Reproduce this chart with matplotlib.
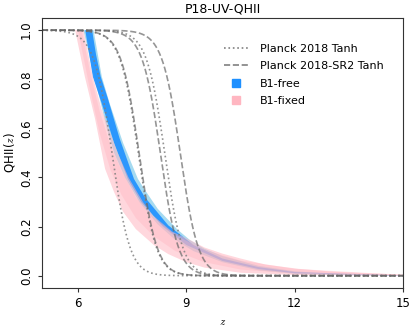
import numpy as np
import matplotlib
matplotlib.use("Agg")
import matplotlib.pyplot as plt
from matplotlib.lines import Line2D

plt.rcParams['font.family'] = ['DejaVu Sans']
plt.rcParams['mathtext.fontset'] = 'cm'

# tanh reionization midpoints (low, mid, high)
planck_zre = [6.94, 7.67, 8.40]
sr2_zre = [7.69, 8.28, 8.83]

# B1-free band, outer (light) and inner (dark) edges
blue_out_lo_z = [6.15, 6.4, 6.6, 6.8, 7.0, 7.3, 7.7, 8.2, 8.7, 9.2, 10.0, 11.0, 12.0, 13.0, 15.0]
blue_out_lo_q = [1.0, 0.84, 0.72, 0.6, 0.5, 0.4, 0.3, 0.21, 0.145, 0.1, 0.055, 0.022, 0.008, 0.003, 0.0]
blue_out_hi_z = [6.43, 6.55, 6.66, 6.88, 7.25, 7.66, 7.83, 8.21, 8.74, 9.1, 9.5, 10.0, 11.0, 12.0, 13.0, 15.0]
blue_out_hi_q = [1.0, 0.9, 0.81, 0.7, 0.54, 0.394, 0.354, 0.272, 0.19, 0.145, 0.11, 0.08, 0.04, 0.018, 0.008, 0.001]
blue_in_lo_z = [6.2, 6.41, 6.66, 7.0, 7.38, 7.75, 8.35, 9.0, 10.0, 11.0, 12.0, 15.0]
blue_in_lo_q = [1.0, 0.81, 0.7, 0.54, 0.394, 0.3, 0.2, 0.125, 0.06, 0.027, 0.01, 0.0]
blue_in_hi_z = [6.39, 6.5, 6.63, 6.83, 7.15, 7.55, 7.85, 8.5, 9.2, 10.0, 11.0, 12.0, 15.0]
blue_in_hi_q = [1.0, 0.9, 0.81, 0.72, 0.56, 0.394, 0.32, 0.205, 0.125, 0.07, 0.035, 0.015, 0.001]

# B1-fixed band
pink_out_lo_z = [5.92, 6.19, 6.47, 6.75, 7.0, 7.25, 7.6, 8.1, 8.5, 9.0, 9.5, 10.5, 12.0, 15.0]
pink_out_lo_q = [1.0, 0.81, 0.64, 0.435, 0.34, 0.26, 0.19, 0.125, 0.088, 0.055, 0.033, 0.012, 0.003, 0.0]
pink_out_hi_z = [6.15, 6.41, 6.65, 6.9, 7.1, 7.4, 7.8, 8.08, 8.6, 9.15, 9.5, 10.0, 10.5, 11.2, 12.1, 13.0, 14.0, 15.0]
pink_out_hi_q = [1.0, 0.81, 0.68, 0.58, 0.5, 0.40, 0.30, 0.245, 0.18, 0.142, 0.115, 0.09, 0.07, 0.045, 0.028, 0.017, 0.01, 0.005]
pink_in_lo_z = [6.0, 6.3, 6.6, 6.9, 7.2, 7.6, 8.1, 8.7, 9.5, 10.5, 12.0, 15.0]
pink_in_lo_q = [1.0, 0.78, 0.58, 0.43, 0.33, 0.235, 0.16, 0.1, 0.055, 0.025, 0.008, 0.0]
pink_in_hi_z = [6.1, 6.35, 6.6, 6.9, 7.2, 7.6, 8.1, 8.7, 9.5, 10.5, 12.0, 15.0]
pink_in_hi_q = [1.0, 0.82, 0.67, 0.53, 0.43, 0.32, 0.235, 0.165, 0.105, 0.062, 0.028, 0.003]


def tanh_q(z, zre, dz=0.5):
    y = (1 + z) ** 1.5
    yre = (1 + zre) ** 1.5
    dy = 1.5 * np.sqrt(1 + zre) * dz
    return 0.5 * (1 + np.tanh((yre - y) / dy))


def band(ax, lz, lq, hz, hq, **kw):
    xs = list(lz) + list(hz)[::-1]
    ys = list(lq) + list(hq)[::-1]
    ax.fill(xs, ys, lw=0, **kw)


fig = plt.figure(figsize=(4.15, 3.31), dpi=100)
ax = fig.add_axes([0.101, 0.130, 0.870, 0.816])

band(ax, blue_out_lo_z, blue_out_lo_q, blue_out_hi_z, blue_out_hi_q, color='#87CEEB', alpha=0.75)
band(ax, blue_in_lo_z, blue_in_lo_q, blue_in_hi_z, blue_in_hi_q, color='#1E90FF', alpha=0.9)
band(ax, pink_out_lo_z, pink_out_lo_q, pink_out_hi_z, pink_out_hi_q, color='#FFB6C1', alpha=0.55)
band(ax, pink_in_lo_z, pink_in_lo_q, pink_in_hi_z, pink_in_hi_q, color='#FFB6C1', alpha=0.4)

zz = np.linspace(5, 15, 600)
for zre in planck_zre:
    ax.plot(zz, tanh_q(zz, zre), ls=':', color='gray', lw=1.2, alpha=0.85)
for zre in sr2_zre:
    ax.plot(zz, tanh_q(zz, zre), ls='--', color='dimgray', lw=1.2, alpha=0.7)

ax.set_xlim(5, 15)
ax.set_ylim(-0.05, 1.05)
ax.set_xticks([6, 9, 12, 15])
ax.set_yticks([0.0, 0.2, 0.4, 0.6, 0.8, 1.0])
ax.set_yticklabels(['0.0', '0.2', '0.4', '0.6', '0.8', '1.0'], rotation=90, va='center')
ax.tick_params(labelsize=8.5, length=3, color='#333333')
for s in ax.spines.values():
    s.set_color('#333333')
ax.set_xlabel('$z$', fontsize=8, labelpad=5)
ax.set_ylabel('QHII($z$)', fontsize=8.5, labelpad=2)
ax.set_title('P18-UV-QHII', fontsize=9, pad=4)

handles = [
    Line2D([], [], ls=':', color='gray', lw=1.2),
    Line2D([], [], ls='--', color='gray', lw=1.2),
    Line2D([], [], ls='none', marker='s', color='#1E90FF', markersize=5.5),
    Line2D([], [], ls='none', marker='s', color='#FFB6C1', markersize=5.5),
]
labels = ['Planck 2018 Tanh', 'Planck 2018-SR2 Tanh', 'B1-free', 'B1-fixed']
ax.legend(handles, labels, loc='upper right', frameon=False, fontsize=8,
          bbox_to_anchor=(0.975, 0.94), handlelength=2.3, handletextpad=1.0,
          labelspacing=0.65)

fig.savefig('out.png', dpi=100)
